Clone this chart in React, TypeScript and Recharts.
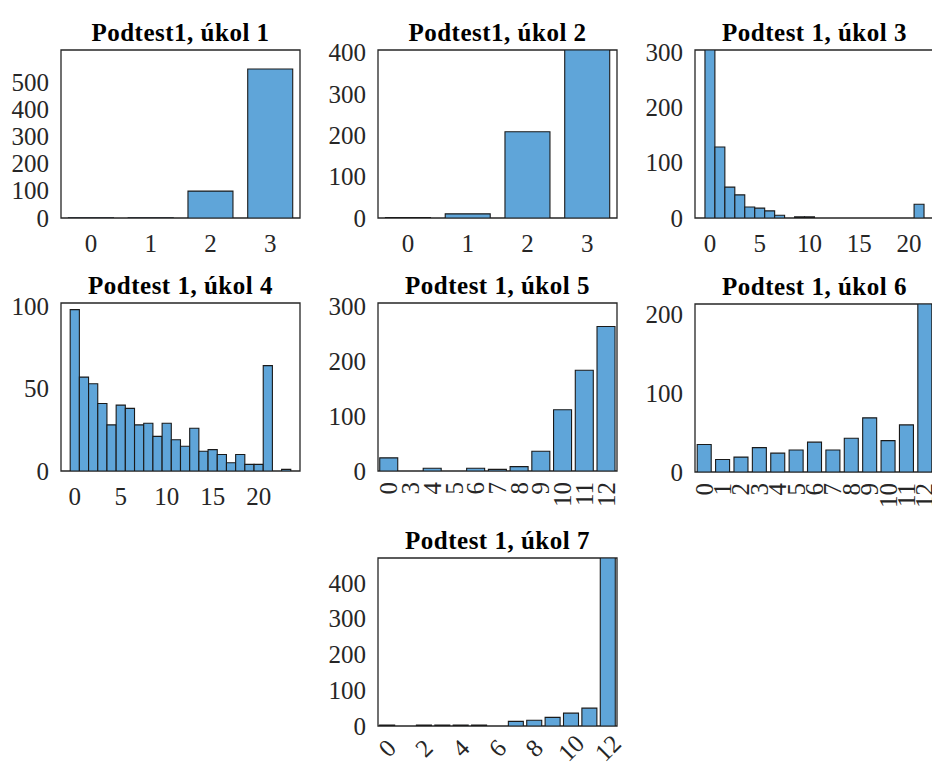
import React from 'react';
import { BarChart, Bar, XAxis, YAxis, ReferenceArea } from 'recharts';

// ---- data ----
const titles = [
  'Podtest1, úkol 1',
  'Podtest1, úkol 2',
  'Podtest 1, úkol 3',
  'Podtest 1, úkol 4',
  'Podtest 1, úkol 5',
  'Podtest 1, úkol 6',
  'Podtest 1, úkol 7',
];

const u1Scores = ['0', '1', '2', '3'];
const u1Counts = [1, 1, 99, 548];

const u2Scores = ['0', '1', '2', '3'];
const u2Counts = [1, 10, 209, 407];

const u3Scores = [0, 1, 2, 3, 4, 5, 6, 7, 8, 9, 10, 11, 12, 13, 14, 15, 16, 17, 18, 19, 20, 21];
const u3Counts = [305, 129, 56, 42, 20, 18, 13, 5, 0, 2, 2, 0, 0, 0, 0, 0, 0, 0, 0, 0, 0, 25];

const u4Scores = [0, 1, 2, 3, 4, 5, 6, 7, 8, 9, 10, 11, 12, 13, 14, 15, 16, 17, 18, 19, 20, 21, 22, 23];
const u4Counts = [98, 57, 53, 41, 28, 40, 38, 28, 29, 21, 29, 19, 15, 26, 12, 13, 10, 5, 10, 4, 4, 64, 0, 1];

const u5Scores = ['0', '3', '4', '5', '6', '7', '8', '9', '10', '11', '12'];
const u5Counts = [24, 0, 5, 0, 5, 3, 8, 36, 112, 184, 264];

const u6Scores = ['0', '1', '2', '3', '4', '5', '6', '7', '8', '9', '10', '11', '12'];
const u6Counts = [35, 16, 19, 31, 24, 28, 38, 28, 43, 69, 40, 60, 214];

const u7Scores = ['0', '1', '2', '3', '4', '5', '6', '7', '8', '9', '10', '11', '12'];
const u7Counts = [3, 0, 3, 3, 3, 3, 0, 13, 16, 24, 36, 50, 470];

const yTicks1 = [0, 100, 200, 300, 400, 500];
const yTicks2 = [0, 100, 200, 300, 400];
const yTicks3 = [0, 100, 200, 300];
const yTicks4 = [0, 50, 100];
const yTicks5 = [0, 100, 200, 300];
const yTicks6 = [0, 100, 200];
const yTicks7 = [0, 100, 200, 300, 400];
const xTicks3 = [0, 5, 10, 15, 20];
const xTicks4 = [0, 5, 10, 15, 20];

// ---- look ----
const FONT = '"Liberation Serif", "Times New Roman", serif';
const BAR_FILL = '#5fa5d9';
const BAR_EDGE = '#1a1a1a';
const AXIS = '#262626';
const PLOT_W = 239;
const PLOT_H = 168;
const LEFT = 61;
const TOP = 50;
const RIGHT = 20;
const BOTTOM = 40;
const TICK_SIZE = 25;

const toRows = (xs: (string | number)[], ys: number[]) => xs.map((x, i) => ({ score: x, count: ys[i] }));

const YTick = (props: any) => (
  <text x={props.x} y={props.y} textAnchor="end" dominantBaseline="central" fontFamily={FONT} fontSize={TICK_SIZE} fill={AXIS}>
    {props.payload.value}
  </text>
);

const FlatTick = (props: any) => (
  <text x={props.x} y={props.y + 25} textAnchor="middle" dominantBaseline="central" fontFamily={FONT} fontSize={TICK_SIZE} fill={AXIS}>
    {props.payload.value}
  </text>
);

const UpTick = (props: any) => {
  const y = props.y + 11;
  return (
    <text x={props.x} y={y} transform={`rotate(-90, ${props.x}, ${y})`} textAnchor="end" dominantBaseline="central" fontFamily={FONT} fontSize={TICK_SIZE} fill={AXIS}>
      {props.payload.value}
    </text>
  );
};

const SlantTick = (props: any) => {
  const y = props.y + 22;
  return (
    <text x={props.x} y={y} transform={`rotate(-45, ${props.x}, ${y})`} textAnchor="middle" dominantBaseline="central" fontFamily={FONT} fontSize={TICK_SIZE} fill={AXIS}>
      {props.payload.value}
    </text>
  );
};

type PanelProps = {
  title: string;
  rows: { score: string | number; count: number }[];
  px: number;
  py: number;
  yMax: number;
  yTicks: number[];
  xDomain?: [number, number];
  xTicks?: number[];
  tick: 'flat' | 'up' | 'slant';
  interval?: number;
  gap?: string;
};

const Panel = ({ title, rows, px, py, yMax, yTicks, xDomain, xTicks, tick, interval = 0, gap = '10%' }: PanelProps) => {
  const numeric = !!xDomain;
  const barSize = numeric ? PLOT_W / (xDomain![1] - xDomain![0]) - 0.02 : undefined;
  const TickComp = tick === 'flat' ? FlatTick : tick === 'up' ? UpTick : SlantTick;
  return (
    <>
      <div
        style={{
          position: 'absolute',
          left: px,
          top: py - 30,
          width: PLOT_W,
          textAlign: 'center',
          whiteSpace: 'nowrap',
          fontFamily: FONT,
          fontWeight: 'bold',
          fontSize: 25,
          lineHeight: '25px',
          letterSpacing: 0.5,
          color: '#000',
        }}
      >
        {title}
      </div>
      <div style={{ position: 'absolute', left: px - LEFT, top: py - TOP }}>
        <BarChart
          width={LEFT + PLOT_W + RIGHT}
          height={TOP + PLOT_H + BOTTOM}
          data={rows}
          margin={{ top: TOP, right: RIGHT, left: 0, bottom: 0 }}
          barCategoryGap={gap}
          style={{ overflow: 'visible' }}
        >
          {numeric ? (
            <XAxis
              dataKey="score"
              type="number"
              domain={xDomain}
              ticks={xTicks}
              interval={0}
              allowDataOverflow
              height={BOTTOM}
              tickSize={0}
              tickMargin={0}
              tickLine={false}
              axisLine={false}
              tick={<TickComp />}
            />
          ) : (
            <XAxis
              dataKey="score"
              type="category"
              interval={interval}
              height={BOTTOM}
              tickSize={0}
              tickMargin={0}
              tickLine={false}
              axisLine={false}
              tick={<TickComp />}
            />
          )}
          <YAxis
            domain={[0, yMax]}
            ticks={yTicks}
            interval={0}
            allowDataOverflow
            width={LEFT}
            tickSize={0}
            tickMargin={12}
            tickLine={false}
            axisLine={false}
            tick={<YTick />}
          />
          <Bar dataKey="count" fill={BAR_FILL} stroke={BAR_EDGE} strokeWidth={1.1} barSize={barSize} isAnimationActive={false} />
          <ReferenceArea y1={0} y2={yMax} fill="none" stroke={AXIS} strokeWidth={1.3} ifOverflow="visible" />
        </BarChart>
      </div>
    </>
  );
};

export default function App() {
  return (
    <div style={{ position: 'fixed', left: 0, top: 0, width: 932, height: 767, overflow: 'hidden', background: '#fff' }}>
      <Panel title={titles[0]} rows={toRows(u1Scores, u1Counts)} px={61} py={50} yMax={618} yTicks={yTicks1} tick="flat" gap="12.5%" />
      <Panel title={titles[1]} rows={toRows(u2Scores, u2Counts)} px={378} py={50} yMax={407} yTicks={yTicks2} tick="flat" gap="12.5%" />
      <Panel title={titles[2]} rows={toRows(u3Scores, u3Counts)} px={695} py={50} yMax={305} yTicks={yTicks3} xDomain={[-1.5, 22.5]} xTicks={xTicks3} tick="flat" />
      <Panel title={titles[3]} rows={toRows(u4Scores, u4Counts)} px={61} py={303} yMax={102} yTicks={yTicks4} xDomain={[-1.5, 24.5]} xTicks={xTicks4} tick="flat" />
      <Panel title={titles[4]} rows={toRows(u5Scores, u5Counts)} px={378} py={303} yMax={307} yTicks={yTicks5} tick="up" gap="8%" />
      <Panel title={titles[5]} rows={toRows(u6Scores, u6Counts)} px={695} py={304} yMax={214} yTicks={yTicks6} tick="up" gap="12%" />
      <Panel title={titles[6]} rows={toRows(u7Scores, u7Counts)} px={378} py={558} yMax={470} yTicks={yTicks7} tick="slant" interval={1} gap="9%" />
    </div>
  );
}
